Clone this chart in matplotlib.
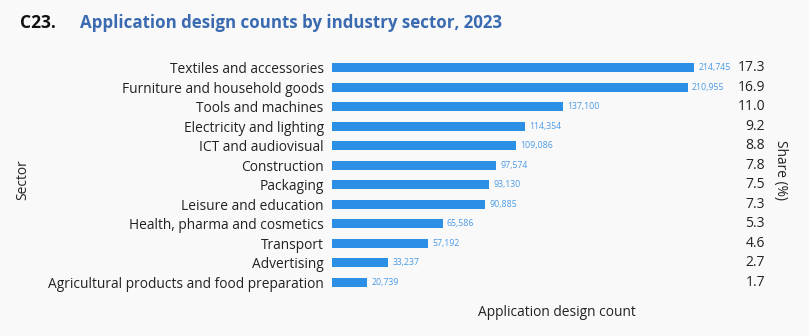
import matplotlib
matplotlib.use('Agg')
import matplotlib.pyplot as plt
import numpy as np

# data
sectors = ['Textiles and accessories', 'Furniture and household goods', 'Tools and machines',
           'Electricity and lighting', 'ICT and audiovisual', 'Construction', 'Packaging',
           'Leisure and education', 'Health, pharma and cosmetics', 'Transport', 'Advertising',
           'Agricultural products and food preparation']
counts = [214745, 210955, 137100, 114354, 109086, 97574, 93130, 90885, 65586, 57192, 33237, 20739]
shares = [17.3, 16.9, 11.0, 9.2, 8.8, 7.8, 7.5, 7.3, 5.3, 4.6, 2.7, 1.7]

plt.rcParams['font.family'] = ['Open Sans', 'DejaVu Sans']
bg = '#f9f9f9'
bar_color = '#2b8fe6'
txt = '#222222'

fig = plt.figure(figsize=(8.09, 3.36), dpi=100, facecolor=bg)
ax = fig.add_axes([332 / 809, 1 - 292 / 336, (765 - 332) / 809, (292 - 58) / 336], facecolor=bg)

y = np.arange(len(sectors))
ax.barh(y, counts, height=0.47, color=bar_color)
ax.set_ylim(len(sectors) - 0.5, -0.5)
ax.set_xlim(0, 214745 * 433 / 362)

ax.set_yticks(y)
ax.set_yticklabels(sectors, fontsize=9.9, color=txt)
ax.tick_params(axis='y', length=0, pad=6)
ax.set_xticks([])
for s in ax.spines.values():
    s.set_visible(False)

# value labels and share column
for i, (c, sh) in enumerate(zip(counts, shares)):
    ax.annotate(f'{c:,}', (c, i), xytext=(3, 0), textcoords='offset points',
                va='center', ha='left', fontsize=6.3, color='#4a9be6')
    ax.text(1.0, i, f'{sh:.1f}', transform=ax.get_yaxis_transform(),
            ha='right', va='center', fontsize=10, color=txt)

ax.set_xlabel('Application design count', fontsize=9.9, color=txt)
ax.xaxis.set_label_coords(0.52, -0.055)
fig.text(23 / 809, 1 - 180 / 336, 'Sector', rotation=90, ha='center', va='center',
         fontsize=9.9, color=txt)
fig.text(780 / 809, 1 - 170 / 336, 'Share (%)', rotation=270, ha='center', va='center',
         fontsize=9.9, color=txt)

fig.text(20 / 809, 1 - 23 / 336, 'C23.', fontsize=12.5, fontweight='bold', color='#111111',
         va='center', ha='left')
fig.text(80 / 809, 1 - 23 / 336, 'Application design counts by industry sector, 2023',
         fontsize=12.2, fontweight='bold', color='#3a6ab0', va='center', ha='left')

fig.savefig('out.png', dpi=100, facecolor=bg)
